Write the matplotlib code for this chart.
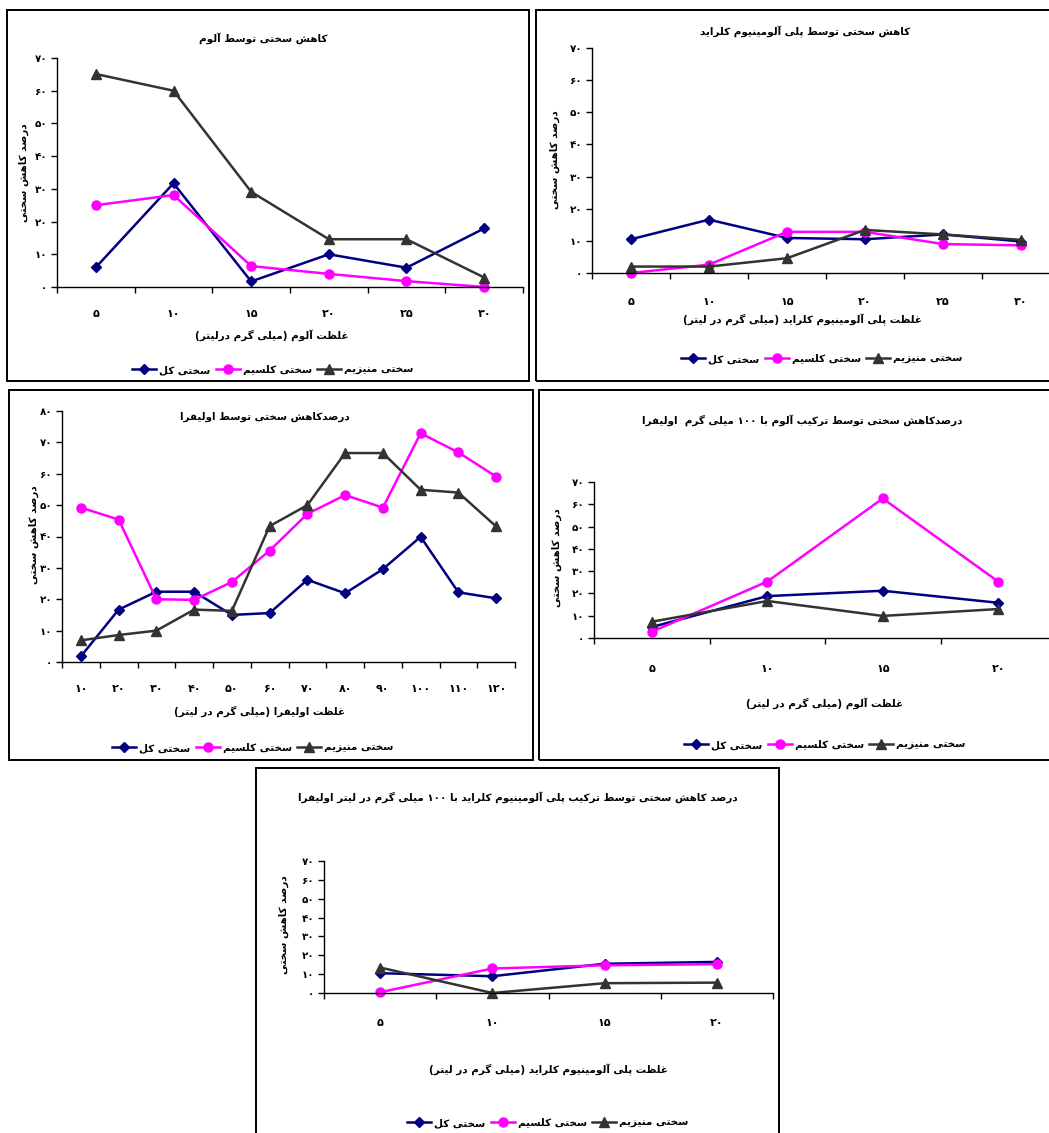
import matplotlib
matplotlib.use('Agg')
import matplotlib.pyplot as plt
from matplotlib.patches import Rectangle

# ---------------- data ----------------
series_names = ['سختی کل', 'سختی کلسیم', 'سختی منیزیم']

p1_title = 'کاهش سختی توسط آلوم'
p1_xlabel = 'غلظت آلوم (میلی گرم درلیتر)'
p1_cats = [5, 10, 15, 20, 25, 30]
p1_total = [6, 31.7, 1.7, 10, 5.9, 17.9]
p1_calcium = [25, 28.1, 6.4, 4.0, 1.8, 0]
p1_magnesium = [65.1, 60, 29.1, 14.6, 14.6, 2.9]

p2_title = 'کاهش سختی توسط پلی آلومینیوم کلراید'
p2_xlabel = 'غلظت پلی آلومینیوم کلراید (میلی گرم در لیتر)'
p2_cats = [5, 10, 15, 20, 25, 30]
p2_total = [10.5, 16.6, 10.9, 10.5, 12.0, 9.8]
p2_calcium = [0, 2.6, 12.8, 12.8, 9.0, 8.6]
p2_magnesium = [2.0, 2.0, 4.6, 13.4, 12.0, 10.3]

p3_title = 'درصدکاهش سختی توسط اولیفرا'
p3_xlabel = 'غلظت اولیفرا (میلی گرم در لیتر)'
p3_cats = [10, 20, 30, 40, 50, 60, 70, 80, 90, 100, 110, 120]
p3_total = [1.8, 16.7, 22.4, 22.4, 15.0, 15.6, 26.2, 21.9, 29.6, 39.9, 22.2, 20.3]
p3_calcium = [49.2, 45.4, 20.0, 19.8, 25.5, 35.5, 47.2, 53.2, 49.2, 72.9, 66.8, 59.1]
p3_magnesium = [6.9, 8.6, 10.0, 16.7, 16.3, 43.3, 50.0, 66.6, 66.6, 54.9, 54.0, 43.2]

p4_title = 'درصدکاهش سختی توسط ترکیب آلوم با ۱۰۰ میلی گرم  اولیفرا'
p4_xlabel = 'غلظت آلوم (میلی گرم در لیتر)'
p4_cats = [5, 10, 15, 20]
p4_total = [4.9, 18.8, 21.2, 15.8]
p4_calcium = [2.8, 25.3, 62.6, 25.3]
p4_magnesium = [7.3, 16.6, 9.9, 13.0]

p5_title = 'درصد کاهش سختی توسط ترکیب پلی آلومینیوم کلراید با ۱۰۰ میلی گرم در لیتر اولیفرا'
p5_xlabel = 'غلظت پلی آلومینیوم کلراید (میلی گرم در لیتر)'
p5_cats = [5, 10, 15, 20]
p5_total = [10.5, 8.9, 15.5, 16.5]
p5_calcium = [0.4, 13.0, 14.7, 15.3]
p5_magnesium = [13.5, 0, 5.2, 5.5]

ylabel = 'درصد کاهش سختی'

# ---------------- minimal Arabic/Persian shaping ----------------
FORMS = {
    '\u0627': ('\uFE8D', '\uFE8E', None, None),
    '\u0622': ('\uFE81', '\uFE82', None, None),
    '\u0628': ('\uFE8F', '\uFE90', '\uFE91', '\uFE92'),
    '\u067E': ('\uFB56', '\uFB57', '\uFB58', '\uFB59'),
    '\u062A': ('\uFE95', '\uFE96', '\uFE97', '\uFE98'),
    '\u062E': ('\uFEA5', '\uFEA6', '\uFEA7', '\uFEA8'),
    '\u062F': ('\uFEA9', '\uFEAA', None, None),
    '\u0631': ('\uFEAD', '\uFEAE', None, None),
    '\u0632': ('\uFEAF', '\uFEB0', None, None),
    '\u0633': ('\uFEB1', '\uFEB2', '\uFEB3', '\uFEB4'),
    '\u0634': ('\uFEB5', '\uFEB6', '\uFEB7', '\uFEB8'),
    '\u0635': ('\uFEB9', '\uFEBA', '\uFEBB', '\uFEBC'),
    '\u0637': ('\uFEC1', '\uFEC2', '\uFEC3', '\uFEC4'),
    '\u0638': ('\uFEC5', '\uFEC6', '\uFEC7', '\uFEC8'),
    '\u063A': ('\uFECD', '\uFECE', '\uFECF', '\uFED0'),
    '\u0641': ('\uFED1', '\uFED2', '\uFED3', '\uFED4'),
    '\u0644': ('\uFEDD', '\uFEDE', '\uFEDF', '\uFEE0'),
    '\u0645': ('\uFEE1', '\uFEE2', '\uFEE3', '\uFEE4'),
    '\u0646': ('\uFEE5', '\uFEE6', '\uFEE7', '\uFEE8'),
    '\u0647': ('\uFEE9', '\uFEEA', '\uFEEB', '\uFEEC'),
    '\u0648': ('\uFEED', '\uFEEE', None, None),
    '\u06A9': ('\uFB8E', '\uFB8F', '\uFB90', '\uFB91'),
    '\u06AF': ('\uFB92', '\uFB93', '\uFB94', '\uFB95'),
    '\u06CC': ('\uFBFC', '\uFBFD', '\uFBFE', '\uFBFF'),
}
FA_DIGITS = str.maketrans('0123456789', '۰۱۲۳۴۵۶۷۸۹')


def shape(s):
    out = []
    n = len(s)
    for i, c in enumerate(s):
        if c not in FORMS:
            out.append(c)
            continue
        prev = s[i - 1] if i > 0 else ''
        nxt = s[i + 1] if i < n - 1 else ''
        jp = prev in FORMS and FORMS[prev][2] is not None
        jn = FORMS[c][2] is not None and nxt in FORMS
        iso, fin, ini, med = FORMS[c]
        if jp and jn:
            out.append(med)
        elif jp:
            out.append(fin)
        elif jn:
            out.append(ini)
        else:
            out.append(iso)
    shaped = ''.join(out)
    # reverse for RTL, keep digit runs LTR, mirror parentheses
    rev = shaped[::-1]
    res = []
    run = ''
    for c in rev:
        if c.isdigit():
            run += c
        else:
            if run:
                res.append(run[::-1])
                run = ''
            res.append({'(': ')', ')': '('}.get(c, c))
    if run:
        res.append(run[::-1])
    return ''.join(res)


def fa(v):
    return str(v).translate(FA_DIGITS)


# ---------------- figure ----------------
W, H = 1049, 1133
fig = plt.figure(figsize=(W / 100, H / 100), dpi=100)
FONT = ['DejaVu Sans']
FS = 7.5        # Persian text
FS_TICK = 8     # digits


def box(l, t, r, b):
    fig.add_artist(Rectangle((l / W, 1 - b / H), (r - l) / W, (b - t) / H,
                             transform=fig.transFigure, fill=False,
                             ec='black', lw=1.4))


def ftext(x, y, s, rot=0, size=FS):
    fig.text(x / W, 1 - y / H, shape(s), ha='center', va='center',
             rotation=rot, fontsize=size, fontweight='bold', family=FONT)


COLORS = ['#000080', '#FF00FF', '#333333']
MARKERS = ['D', 'o', '^']
MSIZES = [5.0, 6.5, 6.5]


def panel(boxr, axr, ymax, cats, ys, title, tpos, xlabel, xlpos, ylpos, tlab_pad, legpos):
    box(*boxr)
    l, t, r, b = axr
    ax = fig.add_axes([l / W, 1 - b / H, (r - l) / W, (b - t) / H])
    n = len(cats)
    xs = [i + 0.5 for i in range(n)]
    handles = []
    for k, vals in enumerate(ys):
        h, = ax.plot(xs, vals, color=COLORS[k], lw=1.8, marker=MARKERS[k],
                     ms=MSIZES[k], mec=COLORS[k], mfc=COLORS[k],
                     label=shape(series_names[k]), clip_on=False)
        handles.append(h)
    ax.set_xlim(0, n)
    ax.set_ylim(0, ymax)
    ax.set_xticks(range(n + 1))
    ax.set_xticklabels([])
    ax.set_xticks(xs, minor=True)
    ax.set_xticklabels([fa(c) for c in cats], minor=True, fontsize=FS_TICK,
                       fontweight='bold', family=FONT)
    ax.tick_params(axis='x', which='minor', length=0, pad=tlab_pad)
    ax.tick_params(axis='x', which='major', length=4, width=1, direction='out')
    yt = list(range(0, ymax + 1, 10))
    ax.set_yticks(yt)
    ax.set_yticklabels([fa(v) for v in yt], fontsize=FS_TICK - 0.5,
                       fontweight='bold', family=FONT)
    ax.tick_params(axis='y', length=4, width=1, pad=3)
    for sp in ('top', 'right'):
        ax.spines[sp].set_visible(False)
    for sp in ('left', 'bottom'):
        ax.spines[sp].set_linewidth(1.0)
    ax.patch.set_alpha(0)
    ftext(tpos[0], tpos[1], title)
    ftext(xlpos[0], xlpos[1], xlabel)
    ftext(ylpos[0], ylpos[1], ylabel, rot=90)
    # legend (visual order: total, calcium, magnesium)
    fig.legend(handles=handles, loc='center',
               bbox_to_anchor=(legpos[0] / W, 1 - legpos[1] / H),
               ncol=3, frameon=False, handlelength=2.3, handletextpad=0.3,
               columnspacing=0.5, prop={'size': FS, 'weight': 'bold',
                                        'family': FONT})
    return ax


panel((7, 10, 529, 381), (57, 58, 523, 287), 70, p1_cats,
      [p1_total, p1_calcium, p1_magnesium], p1_title, (263, 38),
      p1_xlabel, (272, 335), (24, 173), 16, (273, 370))

panel((536, 10, 1053, 381), (592, 48, 1060, 273), 70, p2_cats,
      [p2_total, p2_calcium, p2_magnesium], p2_title, (805, 32),
      p2_xlabel, (802, 320), (555, 160), 17, (822, 359))

panel((9, 390, 533, 760), (62, 411, 515, 662), 80, p3_cats,
      [p3_total, p3_calcium, p3_magnesium], p3_title, (265, 417),
      p3_xlabel, (260, 711), (34, 535), 16, (253, 748))

panel((539, 390, 1053, 760), (594, 482, 1056, 638), 70, p4_cats,
      [p4_total, p4_calcium, p4_magnesium], p4_title, (802, 420),
      p4_xlabel, (825, 703), (557, 558), 19, (825, 745))

panel((256, 768, 779, 1140), (324, 861, 773, 993), 70, p5_cats,
      [p5_total, p5_calcium, p5_magnesium], p5_title, (518, 798),
      p5_xlabel, (548, 1070), (284, 925), 18, (548, 1123))

fig.savefig('out.png', dpi=100, facecolor='white')
